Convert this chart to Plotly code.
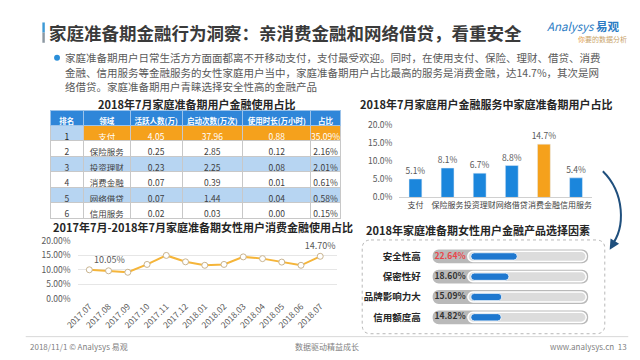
import plotly.graph_objects as go

FONT = "Noto Sans CJK SC"
W, H = 640, 360

# ---------------- data ----------------
title_text = "家庭准备期金融行为洞察：亲消费金融和网络借贷，看重安全"
bullet_lines = [
    "家庭准备期用户日常生活方方面面都离不开移动支付，支付最受欢迎。同时，在使用支付、保险、理财、借贷、消费",
    "金融、信用服务等金融服务的女性家庭用户当中，家庭准备期用户占比最高的服务是消费金融，达14.7%，其次是网",
    "络借贷。家庭准备期用户青睐选择安全性高的金融产品",
]

table_title = "2018年7月家庭准备期用户金融使用占比"
table_header = ["排名", "领域", "活跃人数(万)", "启动次数(万次)", "使用时长(万小时)", "占比"]
table_rank = [1, 2, 3, 4, 5, 6]
table_field = ["支付", "保险服务", "投资理财", "消费金融", "网络借贷", "信用服务"]
table_active = [4.05, 0.25, 0.23, 0.07, 0.07, 0.02]
table_launch = [37.96, 2.85, 2.25, 0.39, 1.44, 0.03]
table_hours = [0.88, 0.12, 0.08, 0.01, 0.04, 0.00]
table_share = [35.09, 2.16, 2.01, 0.61, 0.58, 0.15]

bar_title = "2018年7月家庭用户金融服务中家庭准备期用户占比"
bar_cats = ["支付", "保险服务", "投资理财", "网络借贷", "消费金融", "信用服务"]
bar_vals = [5.1, 8.1, 6.7, 8.8, 14.7, 5.4]
bar_ticks = [0, 5, 10, 15, 20]

line_title = "2017年7月-2018年7月家庭准备期女性用户消费金融使用占比"
line_months = ["2017.07", "2017.08", "2017.09", "2017.10", "2017.11", "2017.12",
               "2018.01", "2018.02", "2018.03", "2018.04", "2018.05", "2018.06", "2018.07"]
line_vals = [10.05, 9.7, 9.2, 11.9, 15.0, 12.8, 11.6, 11.9, 14.5, 13.9, 12.7, 11.6, 14.70]
line_ticks = [0, 5, 10, 15, 20]

factor_title = "2018年家庭准备期女性用户金融产品选择因素"
factor_cats = ["安全性高", "保密性好", "品牌影响力大", "信用额度高"]
factor_vals = [22.64, 18.60, 15.09, 14.82]

footer_left = "2018/11/1 © Analysys 易观"
footer_mid = "数据驱动精益成长"
footer_right = "www.analysys.cn  13"

# ---------------- helpers ----------------
def px(x):
    return x / W

def py(y):
    return 1 - y / H

def rrect_path(x0, y0, x1, y1, r):
    pts = [
        ("M", (x0 + r, y0)), ("L", (x1 - r, y0)), ("Q", (x1, y0, x1, y0 + r)),
        ("L", (x1, y1 - r)), ("Q", (x1, y1, x1 - r, y1)), ("L", (x0 + r, y1)),
        ("Q", (x0, y1, x0, y1 - r)), ("L", (x0, y0 + r)), ("Q", (x0, y0, x0 + r, y0)),
    ]
    s = ""
    for cmd, c in pts:
        if cmd == "Q":
            s += f"Q{px(c[0]):.5f},{py(c[1]):.5f} {px(c[2]):.5f},{py(c[3]):.5f} "
        else:
            s += f"{cmd}{px(c[0]):.5f},{py(c[1]):.5f} "
    return s + "Z"

fig = go.Figure()

# ---------------- table ----------------
ORANGE = "#f5a11c"
LBLUE = "#b7d5f2"
WHITE = "#ffffff"
row_fill = [ORANGE, WHITE, LBLUE, WHITE, LBLUE, WHITE]
rank_fill = [LBLUE, WHITE, LBLUE, WHITE, LBLUE, WHITE]
row_font = ["#ffffff"] + ["#404040"] * 5
rank_font = ["#1f1f1f"] + ["#404040"] * 5

cells = [
    [str(r) for r in table_rank],
    table_field,
    [f"{v:.2f}" for v in table_active],
    [f"{v:.2f}" for v in table_launch],
    [f"{v:.2f}" for v in table_hours],
    [f"{v:.2f}%" for v in table_share],
]
fig.add_trace(go.Table(
    domain=dict(x=[px(37), px(334)], y=[py(226), py(107)]),
    columnwidth=[34, 48, 53, 62, 70, 30],
    header=dict(values=table_header,
                fill_color="#2f86d9", line=dict(color="#9cc3ea", width=1),
                font=dict(family=FONT, size=7.5, color="white", weight="bold"),
                align="center", height=15),
    cells=dict(values=cells,
               fill_color=[rank_fill] + [row_fill] * 5,
               line=dict(color="#c8c8c8", width=1),
               font=dict(family=FONT, size=8.5, color=[rank_font] + [row_font] * 5),
               align="center", height=15.5),
))

# ---------------- bar chart ----------------
bar_colors = [ORANGE if c == "消费金融" else "#1b86dc" for c in bar_cats]
fig.add_trace(go.Bar(
    x=bar_cats, y=bar_vals, marker=dict(color=bar_colors),
    text=[f"{v:.1f}%" for v in bar_vals], textposition="outside",
    constraintext="none",
    textfont=dict(family=FONT, size=8.5, color="#595959"),
    cliponaxis=False, xaxis="x", yaxis="y", hoverinfo="skip", width=0.4,
))

# ---------------- line chart ----------------
line_text = [f"{v:.2f}%" if i in (0, len(line_vals) - 1) else "" for i, v in enumerate(line_vals)]
line_pos = ["top right"] + ["top center"] * (len(line_vals) - 1)
fig.add_trace(go.Scatter(
    x=line_months, y=line_vals, mode="lines+markers+text",
    line=dict(color="#f5b53a", width=2),
    marker=dict(size=6, color="white", line=dict(color="#c9b48f", width=1)),
    text=line_text, textposition=line_pos,
    textfont=dict(family=FONT, size=9, color="#595959"),
    cliponaxis=False, xaxis="x2", yaxis="y2", hoverinfo="skip",
))

# ---------------- factor pills ----------------
K = 2.1
x_lo = -(467 - 427) / K
x_hi = (589 - 467) / K
fig.add_trace(go.Bar(
    y=factor_cats, x=[(587 - 428) / K] * len(factor_cats), base=(428 - 467) / K,
    orientation="h", width=0.68,
    marker=dict(color="#b9b9b9", cornerradius="50%", line=dict(width=0)),
    xaxis="x3", yaxis="y3", hoverinfo="skip",
))
fig.add_trace(go.Bar(
    y=factor_cats, x=[(585 - 464) / K] * len(factor_cats), base=(464 - 467) / K,
    orientation="h", width=0.5,
    marker=dict(color="#dcdcdc", cornerradius="50%", line=dict(color="white", width=1.5)),
    xaxis="x3", yaxis="y3", hoverinfo="skip",
))
fig.add_trace(go.Bar(
    y=factor_cats, x=factor_vals, base=0,
    orientation="h", width=0.36,
    marker=dict(color="#1f78cf", cornerradius="50%", line=dict(color="white", width=0.8)),
    xaxis="x3", yaxis="y3", hoverinfo="skip",
))
fig.add_trace(go.Scatter(
    y=factor_cats, x=[(430 - 467) / K] * len(factor_cats), mode="text",
    text=[f"<b>{v:.2f}%</b>" for v in factor_vals], textposition="middle right",
    textfont=dict(family=FONT, size=8.5, color=["#e8464b"] + ["#333333"] * 3),
    cliponaxis=False, xaxis="x3", yaxis="y3", hoverinfo="skip",
))

# ---------------- layout ----------------
tickfont = dict(family=FONT, size=8.5, color="#595959")
fig.update_layout(
    width=W, height=H, margin=dict(l=0, r=0, t=0, b=0),
    paper_bgcolor="white", plot_bgcolor="rgba(0,0,0,0)",
    showlegend=False, barmode="overlay",
    font=dict(family=FONT),
    xaxis=dict(domain=[px(394), px(591)], tickfont=dict(family=FONT, size=8, color="#404040"),
               tickangle=0, showline=True, linecolor="#d0d0d0", linewidth=1, showgrid=False,
               ticks="", fixedrange=True),
    yaxis=dict(domain=[py(197), py(122)], range=[0, 20], tickvals=bar_ticks,
               ticktext=[f"{t:.1f}%" for t in bar_ticks], tickfont=tickfont,
               showgrid=False, zeroline=False, showline=False, ticks="",
               ticklabelstandoff=6, fixedrange=True),
    xaxis2=dict(domain=[px(65), px(330)], range=[-0.61, 12.86], tickangle=-45,
                tickfont=tickfont, showgrid=False, showline=False, ticks="",
                anchor="y2", fixedrange=True),
    yaxis2=dict(domain=[py(302), py(242)], range=[0, 20], tickvals=line_ticks,
                ticktext=[f"{t:.2f}%" for t in line_ticks], tickfont=tickfont,
                showgrid=True, gridcolor="#e6e6e6", gridwidth=1, zeroline=False,
                ticks="", anchor="x2", ticklabelstandoff=6, fixedrange=True),
    xaxis3=dict(domain=[px(427), px(589)], range=[x_lo, x_hi], visible=False,
                anchor="y3", fixedrange=True),
    yaxis3=dict(domain=[py(331.5), py(247.5)], autorange="reversed", anchor="x3",
                tickfont=dict(family=FONT, size=9.5, color="#262626", weight="bold"),
                showgrid=False, zeroline=False, showline=False, ticks="",
                ticklabelstandoff=10, fixedrange=True),
)

shapes = []
# title accent bar
shapes.append(dict(type="rect", xref="paper", yref="paper", x0=px(29), x1=px(31.5),
                   y0=py(26.5), y1=py(16), fillcolor="#3d9ad6", line=dict(width=0)))
shapes.append(dict(type="rect", xref="paper", yref="paper", x0=px(29), x1=px(31.5),
                   y0=py(37), y1=py(26.5), fillcolor="#8c98a2", line=dict(width=0)))
# bullet dot
shapes.append(dict(type="circle", xref="paper", yref="paper", x0=px(41), x1=px(47),
                   y0=py(55.5), y1=py(49.5), fillcolor="#2b8fd9", line=dict(width=0)))
# dashed rounded box
shapes.append(dict(type="path", xref="paper", yref="paper",
                   path=rrect_path(356, 241, 604, 338, 9),
                   line=dict(color="#b8b8b8", width=1, dash="dot")))
# curved arrow
shapes.append(dict(type="path", xref="paper", yref="paper",
                   path=f"M{px(602):.5f},{py(170):.5f} C{px(624):.5f},{py(192):.5f} "
                        f"{px(626):.5f},{py(228):.5f} {px(610):.5f},{py(248):.5f}",
                   line=dict(color="#1f4f7d", width=2)))
# footer line
shapes.append(dict(type="line", xref="paper", yref="paper", x0=px(12), x1=px(628),
                   y0=py(341), y1=py(341), line=dict(color="#d9d9d9", width=1)))
fig.update_layout(shapes=shapes)

ann = []
def text(x, y, s, size, color="#404040", xanchor="center", bold=False):
    ann.append(dict(x=px(x), y=py(y), xref="paper", yref="paper", text=s,
                    showarrow=False, xanchor=xanchor, yanchor="middle",
                    font=dict(family=FONT, size=size, color=color,
                              weight="bold" if bold else "normal")))

text(34, 26, title_text, 17.5, "#3a3a3a", "left", True)
text(582, 20, "<i>Analysys</i> <b>易观</b>", 11.5, "#2b7cc4")
text(602, 33, "<span style='color:#e69b3a'>你</span>要的数据分析", 7, "#c9a46a")
for i, line in enumerate(bullet_lines):
    text(50, 52.5 + 15 * i, line, 10.5, "#595959", "left")
text(187, 100, table_title, 11, "#262626", bold=True)
text(483, 100, bar_title, 11, "#262626", bold=True)
text(193, 228, line_title, 11, "#262626", bold=True)
text(474, 231, factor_title, 11, "#262626", bold=True)
text(14, 351, footer_left, 8, "#7f7f7f", "left")
text(320, 351, footer_mid, 8, "#7f7f7f")
text(629, 351, footer_right, 8, "#7f7f7f", "right")
# arrow head
ann.append(dict(x=px(609), y=py(251), xref="paper", yref="paper", text="",
                showarrow=True, arrowhead=2, arrowsize=1, arrowwidth=2,
                arrowcolor="#1f4f7d", ax=3, ay=-5))
fig.update_layout(annotations=ann)

fig.write_html("out.html", config={"displayModeBar": False},
               post_script="document.body.style.margin='0';")
